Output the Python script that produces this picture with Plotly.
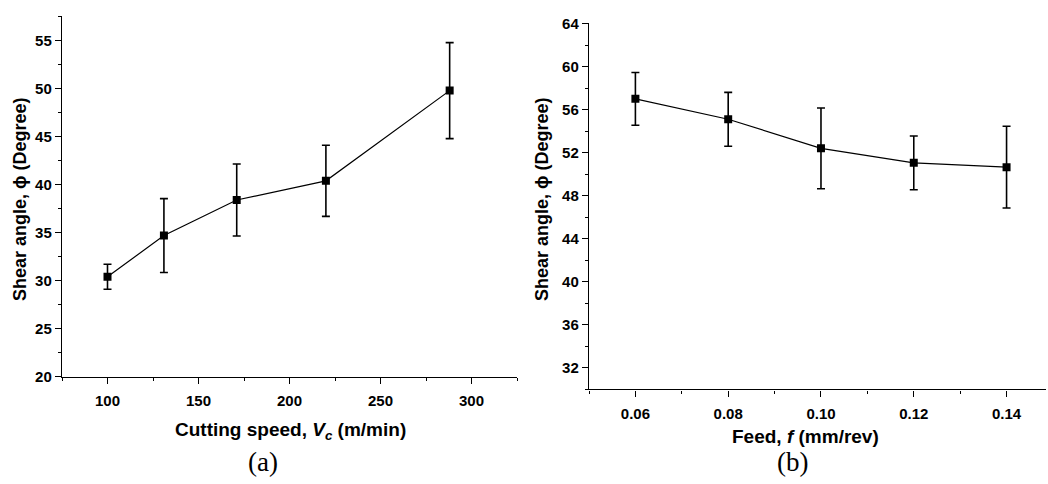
import plotly.graph_objects as go

# Panel (a): shear angle vs cutting speed
speed = [100, 131, 171, 220, 288]
shear_a = [30.4, 34.7, 38.4, 40.4, 49.8]
err_a = [1.3, 3.85, 3.75, 3.7, 5.0]
xticks_a = [100, 150, 200, 250, 300]
yticks_a = [20, 25, 30, 35, 40, 45, 50, 55]

# Panel (b): shear angle vs feed
feed = [0.06, 0.08, 0.10, 0.12, 0.14]
shear_b = [57.0, 55.1, 52.4, 51.05, 50.65]
err_b = [2.45, 2.5, 3.75, 2.5, 3.8]
xticks_b = [0.06, 0.08, 0.10, 0.12, 0.14]
xticklabels_b = ["0.06", "0.08", "0.10", "0.12", "0.14"]
yticks_b = [32, 36, 40, 44, 48, 52, 56, 60, 64]

W, H = 1048, 484
FONT = "Liberation Sans, Arial, sans-serif"

fig = go.Figure()

def add_series(x, y, e, xa, ya):
    fig.add_trace(go.Scatter(
        x=x, y=y, xaxis=xa, yaxis=ya, mode="lines+markers",
        line=dict(color="black", width=1.2),
        marker=dict(symbol="square", size=8, color="black"),
        error_y=dict(type="data", array=e, visible=True, color="black",
                     thickness=1.6, width=4),
        showlegend=False,
    ))

add_series(speed, shear_a, err_a, "x", "y")
add_series(feed, shear_b, err_b, "x2", "y2")

def ax(domain, rng, vals, labels, minor_dtick, anchor, standoff=0):
    return dict(
        domain=domain, range=rng, tickmode="array", tickvals=vals,
        ticktext=["<b>%s</b>" % t for t in labels],
        showgrid=False, zeroline=False, showline=True, linecolor="black",
        linewidth=1.4, ticks="outside", ticklen=6, tickwidth=1.3,
        tickcolor="black", anchor=anchor, ticklabelstandoff=standoff,
        tickfont=dict(family=FONT, size=15, color="black"),
        minor=dict(dtick=minor_dtick, tick0=0, ticks="outside", ticklen=3,
                   tickwidth=1.2, tickcolor="black", showgrid=False),
    )

fig.update_layout(
    width=W, height=H, margin=dict(l=0, r=0, t=0, b=0),
    plot_bgcolor="white", paper_bgcolor="white",
    xaxis=ax([62 / W, 517 / W], [75, 325], xticks_a, [str(v) for v in xticks_a], 25, "y", 4),
    yaxis=ax([1 - 381 / H, 1 - 7 / H], [20, 57.6], yticks_a, [str(v) for v in yticks_a], 2.5, "x"),
    xaxis2=ax([589 / W, 1046 / W], [0.05, 0.1485], xticks_b, xticklabels_b, 0.01, "y2", 4),
    yaxis2=ax([1 - 394.3 / H, 1 - 15 / H], [30, 64], yticks_b, [str(v) for v in yticks_b], 2, "x2"),
)

ann = [
    dict(text="<b>Cutting speed, <i>V</i><sub><i>c</i></sub> (m/min)</b>", x=290 / W, y=1 - 437 / H, size=19),
    dict(text="<b>Feed, <i>f</i> (mm/rev)</b>", x=805 / W, y=1 - 443 / H, size=19),
    dict(text="<b>Shear angle, \u03d5 (Degree)</b>", x=20 / W, y=1 - 197 / H, textangle=-90, size=18),
    dict(text="<b>Shear angle, \u03d5 (Degree)</b>", x=542 / W, y=1 - 197 / H, textangle=-90, size=18),
]
for a in ann:
    size = a.pop("size")
    fig.add_annotation(xref="paper", yref="paper", showarrow=False,
                       xanchor="center", yanchor="middle",
                       font=dict(family=FONT, size=size, color="black"), **a)

label_font = dict(family="Liberation Serif, Times New Roman, serif", size=27, color="black")
fig.add_annotation(text="(a)", x=263 / W, y=1 - 469 / H, xref="paper", yref="paper",
                   showarrow=False, xanchor="center", yanchor="middle", font=label_font)
fig.add_annotation(text="(b)", x=792 / W, y=1 - 469 / H, xref="paper", yref="paper",
                   showarrow=False, xanchor="center", yanchor="middle", font=label_font)

fig.write_html("out.html")
